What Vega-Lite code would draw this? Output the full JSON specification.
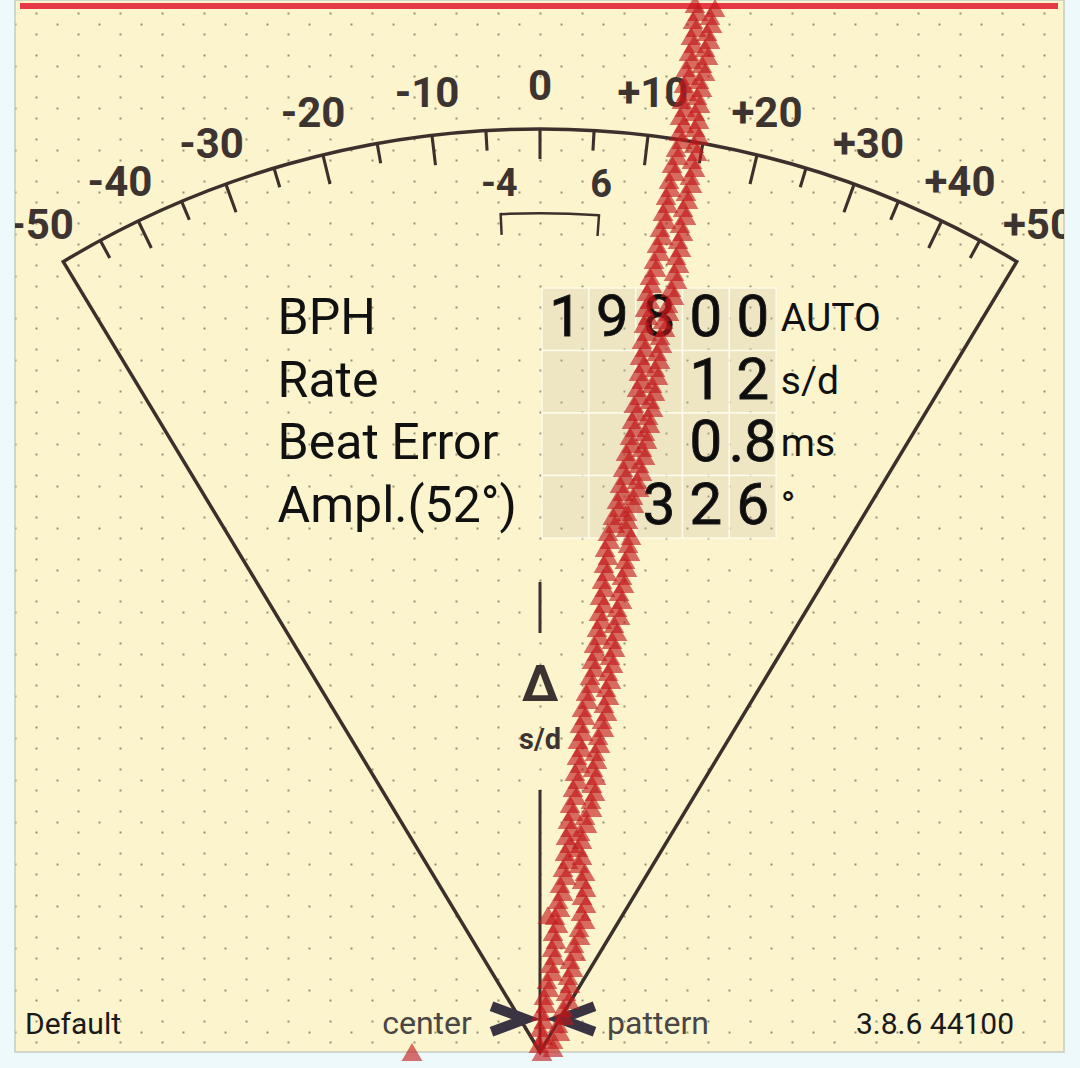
{
  "$schema": "https://vega.github.io/schema/vega-lite/v6.json",
  "width": 1049,
  "height": 1052,
  "autosize": {"type": "none"},
  "padding": {"left": 15, "top": 0, "right": 16, "bottom": 16},
  "background": "#eef9fb",
  "config": {
    "view": {"fill": "#fcf4cd", "stroke": "#c6ccc0", "strokeWidth": 1.5},
    "font": "Roboto"
  },
  "data": {"values": [{}]},
  "datasets": {
    "ticksMajor": [{"v":-40},{"v":-30},{"v":-20},{"v":-10},{"v":0},{"v":10},{"v":20},{"v":30},{"v":40}],
    "ticksMinor": [{"v":-45},{"v":-35},{"v":-25},{"v":-15},{"v":-5},{"v":5},{"v":15},{"v":25},{"v":35},{"v":45}],
    "labels": [{"v":-50,"t":"-50"},{"v":-40,"t":"-40"},{"v":-30,"t":"-30"},{"v":-20,"t":"-20"},{"v":-10,"t":"-10"},{"v":0,"t":"0"},{"v":10,"t":"+10"},{"v":20,"t":"+20"},{"v":30,"t":"+30"},{"v":40,"t":"+40"},{"v":50,"t":"+50"}],
    "window": [{"v":-4,"t":"-4"},{"v":6,"t":"6"}],
    "cells": [
      {"r":1,"c":1,"d":"1"},{"r":1,"c":2,"d":"9"},{"r":1,"c":3,"d":"8"},{"r":1,"c":4,"d":"0"},{"r":1,"c":5,"d":"0"},
      {"r":2,"c":1,"d":""},{"r":2,"c":2,"d":""},{"r":2,"c":3,"d":""},{"r":2,"c":4,"d":"1"},{"r":2,"c":5,"d":"2"},
      {"r":3,"c":1,"d":""},{"r":3,"c":2,"d":""},{"r":3,"c":3,"d":""},{"r":3,"c":4,"d":"0"},{"r":3,"c":5,"d":".8"},
      {"r":4,"c":1,"d":""},{"r":4,"c":2,"d":""},{"r":4,"c":3,"d":"3"},{"r":4,"c":4,"d":"2"},{"r":4,"c":5,"d":"6"}
    ],
    "rows": [
      {"r":1,"label":"BPH","unit":"AUTO"},
      {"r":2,"label":"Rate","unit":"s/d"},
      {"r":3,"label":"Beat Error","unit":"ms"},
      {"r":4,"label":"Ampl.(52°)","unit":"°"}
    ],
    "trace": [
      {"x":695,"y":4},{"x":698,"y":12},{"x":693,"y":20},{"x":696,"y":28},{"x":691,"y":36},{"x":694,"y":44},{"x":689,"y":52},{"x":692,"y":60},{"x":686,"y":68},{"x":689,"y":76},{"x":684,"y":84},{"x":687,"y":92},{"x":682,"y":100},{"x":685,"y":108},{"x":680,"y":116},{"x":684,"y":124},{"x":679,"y":132},{"x":682,"y":140},{"x":676,"y":148},{"x":678,"y":156},{"x":672,"y":164},{"x":675,"y":172},{"x":669,"y":180},{"x":671,"y":188},{"x":666,"y":196},{"x":668,"y":204},{"x":663,"y":212},{"x":666,"y":220},{"x":660,"y":228},{"x":663,"y":236},{"x":657,"y":244},{"x":660,"y":252},{"x":654,"y":260},{"x":656,"y":268},{"x":650,"y":276},{"x":652,"y":284},{"x":647,"y":292},{"x":650,"y":300},{"x":645,"y":308},{"x":648,"y":316},{"x":644,"y":324},{"x":647,"y":332},{"x":642,"y":340},{"x":645,"y":348},{"x":640,"y":356},{"x":644,"y":364},{"x":639,"y":372},{"x":642,"y":380},{"x":637,"y":388},{"x":640,"y":396},{"x":634,"y":404},{"x":637,"y":412},{"x":632,"y":420},{"x":635,"y":428},{"x":630,"y":436},{"x":632,"y":444},{"x":626,"y":452},{"x":629,"y":460},{"x":623,"y":468},{"x":626,"y":476},{"x":620,"y":484},{"x":623,"y":492},{"x":617,"y":500},{"x":619,"y":508},{"x":613,"y":516},{"x":615,"y":524},{"x":608,"y":532},{"x":610,"y":540},{"x":605,"y":548},{"x":608,"y":556},{"x":604,"y":564},{"x":607,"y":572},{"x":602,"y":580},{"x":605,"y":588},{"x":600,"y":596},{"x":604,"y":604},{"x":599,"y":612},{"x":602,"y":620},{"x":597,"y":628},{"x":600,"y":636},{"x":594,"y":644},{"x":597,"y":652},{"x":592,"y":660},{"x":595,"y":668},{"x":590,"y":676},{"x":592,"y":684},{"x":586,"y":692},{"x":588,"y":700},{"x":582,"y":708},{"x":585,"y":716},{"x":580,"y":724},{"x":583,"y":732},{"x":578,"y":740},{"x":582,"y":748},{"x":577,"y":756},{"x":580,"y":764},{"x":575,"y":772},{"x":578,"y":780},{"x":573,"y":788},{"x":576,"y":796},{"x":570,"y":804},{"x":573,"y":812},{"x":568,"y":820},{"x":571,"y":828},{"x":566,"y":836},{"x":570,"y":844},{"x":565,"y":852},{"x":568,"y":860},{"x":563,"y":868},{"x":566,"y":876},{"x":560,"y":884},{"x":563,"y":892},{"x":558,"y":900},{"x":560,"y":908},{"x":555,"y":916},{"x":558,"y":924},{"x":553,"y":932},{"x":556,"y":940},{"x":552,"y":948},{"x":555,"y":956},{"x":550,"y":964},{"x":553,"y":972},{"x":547,"y":980},{"x":549,"y":988},{"x":544,"y":996},{"x":546,"y":1004},{"x":541,"y":1012},{"x":544,"y":1020},{"x":540,"y":1028},{"x":543,"y":1036},{"x":539,"y":1044},{"x":542,"y":1052},
      {"x":715,"y":8},{"x":710,"y":16},{"x":712,"y":24},{"x":707,"y":32},{"x":710,"y":40},{"x":705,"y":48},{"x":708,"y":56},{"x":702,"y":64},{"x":705,"y":72},{"x":699,"y":80},{"x":702,"y":88},{"x":697,"y":96},{"x":700,"y":104},{"x":695,"y":112},{"x":699,"y":120},{"x":695,"y":128},{"x":699,"y":136},{"x":694,"y":144},{"x":697,"y":152},{"x":692,"y":160},{"x":695,"y":168},{"x":690,"y":176},{"x":692,"y":184},{"x":686,"y":192},{"x":688,"y":200},{"x":683,"y":208},{"x":686,"y":216},{"x":680,"y":224},{"x":683,"y":232},{"x":678,"y":240},{"x":681,"y":248},{"x":676,"y":256},{"x":679,"y":264},{"x":674,"y":272},{"x":677,"y":280},{"x":671,"y":288},{"x":674,"y":296},{"x":668,"y":304},{"x":669,"y":312},{"x":663,"y":320},{"x":665,"y":328},{"x":660,"y":336},{"x":662,"y":344},{"x":657,"y":352},{"x":660,"y":360},{"x":655,"y":368},{"x":658,"y":376},{"x":652,"y":384},{"x":655,"y":392},{"x":650,"y":400},{"x":653,"y":408},{"x":648,"y":416},{"x":650,"y":424},{"x":645,"y":432},{"x":647,"y":440},{"x":642,"y":448},{"x":645,"y":456},{"x":639,"y":464},{"x":642,"y":472},{"x":637,"y":480},{"x":639,"y":488},{"x":633,"y":496},{"x":634,"y":504},{"x":627,"y":512},{"x":628,"y":520},{"x":626,"y":528},{"x":631,"y":536},{"x":628,"y":544},{"x":630,"y":552},{"x":625,"y":560},{"x":627,"y":568},{"x":622,"y":576},{"x":624,"y":584},{"x":619,"y":592},{"x":622,"y":600},{"x":617,"y":608},{"x":620,"y":616},{"x":614,"y":624},{"x":617,"y":632},{"x":612,"y":640},{"x":615,"y":648},{"x":610,"y":656},{"x":613,"y":664},{"x":608,"y":672},{"x":611,"y":680},{"x":606,"y":688},{"x":609,"y":696},{"x":604,"y":704},{"x":607,"y":712},{"x":602,"y":720},{"x":604,"y":728},{"x":598,"y":736},{"x":600,"y":744},{"x":595,"y":752},{"x":597,"y":760},{"x":593,"y":768},{"x":596,"y":776},{"x":592,"y":784},{"x":595,"y":792},{"x":591,"y":800},{"x":592,"y":808},{"x":585,"y":816},{"x":587,"y":824},{"x":580,"y":832},{"x":582,"y":840},{"x":578,"y":848},{"x":582,"y":856},{"x":579,"y":864},{"x":585,"y":872},{"x":582,"y":880},{"x":586,"y":888},{"x":582,"y":896},{"x":586,"y":904},{"x":581,"y":912},{"x":585,"y":920},{"x":579,"y":928},{"x":580,"y":936},{"x":574,"y":944},{"x":576,"y":952},{"x":570,"y":960},{"x":573,"y":968},{"x":568,"y":976},{"x":570,"y":984},{"x":566,"y":992},{"x":569,"y":1000},{"x":563,"y":1008},{"x":564,"y":1016},{"x":558,"y":1024},{"x":560,"y":1032},{"x":553,"y":1040},{"x":553,"y":1048},
      {"x":548,"y":915},{"x":412,"y":1052}
    ]
  },
  "resolve": {"scale": {"x": "independent", "y": "independent"}, "axis": {"x": "independent", "y": "independent"}},
  "layer": [
    {
      "layer": [
        {
          "mark": {"type": "rule", "color": "#e63946", "strokeWidth": 6},
          "encoding": {
            "x": {"datum": 20, "type": "quantitative", "scale": {"domain": [15, 1064], "nice": false, "zero": false},
                  "axis": {"orient": "top", "values": [36,78,120,162,204,246,288,330,372,414,456,498,540,582,624,666,708,750,792,834,876,918,960,1002,1044], "grid": true, "gridColor": "#958f78", "gridWidth": 2, "gridDash": [2, 19], "gridDashOffset": 9, "gridOpacity": 1, "labels": false, "ticks": false, "domain": false, "title": null}},
            "x2": {"datum": 1058},
            "y": {"datum": 6, "type": "quantitative", "scale": {"domain": [0, 1052], "nice": false, "zero": false, "reverse": true},
                  "axis": {"orient": "left", "values": [23.5,44.5,65.5,86.5,107.5,128.5,149.5,170.5,191.5,212.5,233.5,254.5,275.5,296.5,317.5,338.5,359.5,380.5,401.5,422.5,443.5,464.5,485.5,506.5,527.5,548.5,569.5,590.5,611.5,632.5,653.5,674.5,695.5,716.5,737.5,758.5,779.5,800.5,821.5,842.5,863.5,884.5,905.5,926.5,947.5,968.5,989.5,1010.5,1031.5], "grid": true, "gridColor": "#958f78", "gridWidth": 2, "gridDash": [2, 40], "gridDashOffset": 1, "gridOpacity": 1, "labels": false, "ticks": false, "domain": false, "title": null}}
          }
        },
        {
          "mark": {"type": "arc", "radius": 923, "filled": false, "color": "#3b302c", "strokeWidth": 3.5},
          "encoding": {
            "x": {"datum": 540, "type": "quantitative", "scale": {"domain": [15, 1064], "nice": false, "zero": false}},
            "y": {"datum": 1052, "type": "quantitative", "scale": {"domain": [0, 1052], "nice": false, "zero": false, "reverse": true}},
            "theta": {"datum": -50, "type": "quantitative", "stack": null, "scale": {"domain": [-50,-40,-30,-20,-10,0,10,20,30,40,50], "range": [-0.5428,-0.4503,-0.3473,-0.2374,-0.1173,0,0.1173,0.2374,0.3473,0.4503,0.5428]}},
            "theta2": {"datum": 50}
          }
        },
        {
          "data": {"name": "ticksMajor"},
          "mark": {"type": "arc", "radius": 923, "radius2": 893, "thetaOffset": -0.0017, "theta2Offset": 0.0017, "color": "#3b302c"},
          "encoding": {
            "x": {"datum": 540, "type": "quantitative", "scale": {"domain": [15, 1064], "nice": false, "zero": false}},
            "y": {"datum": 1052, "type": "quantitative", "scale": {"domain": [0, 1052], "nice": false, "zero": false, "reverse": true}},
            "theta": {"field": "v", "type": "quantitative", "stack": null, "scale": {"domain": [-50,-40,-30,-20,-10,0,10,20,30,40,50], "range": [-0.5428,-0.4503,-0.3473,-0.2374,-0.1173,0,0.1173,0.2374,0.3473,0.4503,0.5428]}},
            "theta2": {"field": "v"}
          }
        },
        {
          "data": {"name": "ticksMinor"},
          "mark": {"type": "arc", "radius": 923, "radius2": 903, "thetaOffset": -0.0017, "theta2Offset": 0.0017, "color": "#3b302c"},
          "encoding": {
            "x": {"datum": 540, "type": "quantitative", "scale": {"domain": [15, 1064], "nice": false, "zero": false}},
            "y": {"datum": 1052, "type": "quantitative", "scale": {"domain": [0, 1052], "nice": false, "zero": false, "reverse": true}},
            "theta": {"field": "v", "type": "quantitative", "stack": null, "scale": {"domain": [-50,-40,-30,-20,-10,0,10,20,30,40,50], "range": [-0.5428,-0.4503,-0.3473,-0.2374,-0.1173,0,0.1173,0.2374,0.3473,0.4503,0.5428]}},
            "theta2": {"field": "v"}
          }
        },
        {
          "mark": {"type": "arc", "radius": 840, "radius2": 837.5, "color": "#3b302c"},
          "encoding": {
            "x": {"datum": 540, "type": "quantitative", "scale": {"domain": [15, 1064], "nice": false, "zero": false}},
            "y": {"datum": 1052, "type": "quantitative", "scale": {"domain": [0, 1052], "nice": false, "zero": false, "reverse": true}},
            "theta": {"datum": -4, "type": "quantitative", "stack": null, "scale": {"domain": [-50,-40,-30,-20,-10,0,10,20,30,40,50], "range": [-0.5428,-0.4503,-0.3473,-0.2374,-0.1173,0,0.1173,0.2374,0.3473,0.4503,0.5428]}},
            "theta2": {"datum": 6}
          }
        },
        {
          "data": {"name": "window"},
          "mark": {"type": "arc", "radius": 840, "radius2": 818, "thetaOffset": -0.0015, "theta2Offset": 0.0015, "color": "#3b302c"},
          "encoding": {
            "x": {"datum": 540, "type": "quantitative", "scale": {"domain": [15, 1064], "nice": false, "zero": false}},
            "y": {"datum": 1052, "type": "quantitative", "scale": {"domain": [0, 1052], "nice": false, "zero": false, "reverse": true}},
            "theta": {"field": "v", "type": "quantitative", "stack": null, "scale": {"domain": [-50,-40,-30,-20,-10,0,10,20,30,40,50], "range": [-0.5428,-0.4503,-0.3473,-0.2374,-0.1173,0,0.1173,0.2374,0.3473,0.4503,0.5428]}},
            "theta2": {"field": "v"}
          }
        },
        {
          "data": {"name": "labels"},
          "mark": {"type": "text", "radius": 965, "fontSize": 42, "fontWeight": "bold", "color": "#3d3431", "align": "center", "baseline": "middle", "clip": true},
          "encoding": {
            "x": {"datum": 540, "type": "quantitative", "scale": {"domain": [15, 1064], "nice": false, "zero": false}},
            "y": {"datum": 1052, "type": "quantitative", "scale": {"domain": [0, 1052], "nice": false, "zero": false, "reverse": true}},
            "theta": {"field": "v", "type": "quantitative", "stack": null, "scale": {"domain": [-50,-40,-30,-20,-10,0,10,20,30,40,50], "range": [-0.5428,-0.4503,-0.3473,-0.2374,-0.1173,0,0.1173,0.2374,0.3473,0.4503,0.5428]}},
            "text": {"field": "t"}
          }
        },
        {
          "data": {"name": "window"},
          "mark": {"type": "text", "radius": 868, "fontSize": 38, "fontWeight": "bold", "color": "#3d3431", "align": "center", "baseline": "middle"},
          "encoding": {
            "x": {"datum": 540, "type": "quantitative", "scale": {"domain": [15, 1064], "nice": false, "zero": false}},
            "y": {"datum": 1052, "type": "quantitative", "scale": {"domain": [0, 1052], "nice": false, "zero": false, "reverse": true}},
            "theta": {"field": "v", "type": "quantitative", "stack": null, "scale": {"domain": [-50,-40,-30,-20,-10,0,10,20,30,40,50], "range": [-0.5428,-0.4503,-0.3473,-0.2374,-0.1173,0,0.1173,0.2374,0.3473,0.4503,0.5428]}},
            "text": {"field": "t"}
          }
        },
        {
          "mark": {"type": "rule", "color": "#3b302c", "strokeWidth": 3},
          "encoding": {
            "x": {"datum": 540, "type": "quantitative", "scale": {"domain": [15, 1064], "nice": false, "zero": false}},
            "y": {"datum": 582, "type": "quantitative", "scale": {"domain": [0, 1052], "nice": false, "zero": false, "reverse": true}},
            "y2": {"datum": 633}
          }
        },
        {
          "mark": {"type": "rule", "color": "#3b302c", "strokeWidth": 3},
          "encoding": {
            "x": {"datum": 540, "type": "quantitative", "scale": {"domain": [15, 1064], "nice": false, "zero": false}},
            "y": {"datum": 790, "type": "quantitative", "scale": {"domain": [0, 1052], "nice": false, "zero": false, "reverse": true}},
            "y2": {"datum": 1052}
          }
        },
        {
          "mark": {"type": "text", "text": "Δ", "fontSize": 50, "fontWeight": "bold", "color": "#3d3431", "align": "center", "baseline": "middle"},
          "encoding": {
            "x": {"datum": 540, "type": "quantitative", "scale": {"domain": [15, 1064], "nice": false, "zero": false}},
            "y": {"datum": 686, "type": "quantitative", "scale": {"domain": [0, 1052], "nice": false, "zero": false, "reverse": true}}
          }
        },
        {
          "mark": {"type": "text", "text": "s/d", "fontSize": 29, "fontWeight": "bold", "color": "#3d3431", "align": "center", "baseline": "middle"},
          "encoding": {
            "x": {"datum": 540, "type": "quantitative", "scale": {"domain": [15, 1064], "nice": false, "zero": false}},
            "y": {"datum": 740, "type": "quantitative", "scale": {"domain": [0, 1052], "nice": false, "zero": false, "reverse": true}}
          }
        },
        {
          "mark": {"type": "text", "text": "Default", "fontSize": 30, "color": "#1a1a1a", "align": "left", "baseline": "alphabetic"},
          "encoding": {
            "x": {"datum": 25, "type": "quantitative", "scale": {"domain": [15, 1064], "nice": false, "zero": false}},
            "y": {"datum": 1034, "type": "quantitative", "scale": {"domain": [0, 1052], "nice": false, "zero": false, "reverse": true}}
          }
        },
        {
          "mark": {"type": "text", "text": "center", "fontSize": 32, "color": "#4a4646", "align": "center", "baseline": "alphabetic"},
          "encoding": {
            "x": {"datum": 427, "type": "quantitative", "scale": {"domain": [15, 1064], "nice": false, "zero": false}},
            "y": {"datum": 1034, "type": "quantitative", "scale": {"domain": [0, 1052], "nice": false, "zero": false, "reverse": true}}
          }
        },
        {
          "mark": {"type": "text", "text": "pattern", "fontSize": 32, "color": "#4a4646", "align": "center", "baseline": "alphabetic"},
          "encoding": {
            "x": {"datum": 658, "type": "quantitative", "scale": {"domain": [15, 1064], "nice": false, "zero": false}},
            "y": {"datum": 1034, "type": "quantitative", "scale": {"domain": [0, 1052], "nice": false, "zero": false, "reverse": true}}
          }
        },
        {
          "mark": {"type": "text", "text": "3.8.6 44100", "fontSize": 30, "color": "#1a1a1a", "align": "center", "baseline": "alphabetic"},
          "encoding": {
            "x": {"datum": 935, "type": "quantitative", "scale": {"domain": [15, 1064], "nice": false, "zero": false}},
            "y": {"datum": 1034, "type": "quantitative", "scale": {"domain": [0, 1052], "nice": false, "zero": false, "reverse": true}}
          }
        },
        {
          "mark": {"type": "point", "shape": "M-0.85,-0.62L0.8,0L-0.85,0.62", "size": 1700, "filled": false, "color": "#3a3342", "strokeWidth": 10, "opacity": 1, "strokeJoin": "miter"},
          "encoding": {
            "x": {"datum": 509, "type": "quantitative", "scale": {"domain": [15, 1064], "nice": false, "zero": false}},
            "y": {"datum": 1019, "type": "quantitative", "scale": {"domain": [0, 1052], "nice": false, "zero": false, "reverse": true}}
          }
        },
        {
          "mark": {"type": "point", "shape": "M0.85,-0.62L-0.8,0L0.85,0.62", "size": 1700, "filled": false, "color": "#3a3342", "strokeWidth": 10, "opacity": 1, "strokeJoin": "miter"},
          "encoding": {
            "x": {"datum": 577, "type": "quantitative", "scale": {"domain": [15, 1064], "nice": false, "zero": false}},
            "y": {"datum": 1019, "type": "quantitative", "scale": {"domain": [0, 1052], "nice": false, "zero": false, "reverse": true}}
          }
        }
      ]
    },
    {
      "layer": [
        {
          "data": {"name": "cells"},
          "mark": {"type": "rect", "width": 46.8, "height": 62.5, "fill": "#c8c2a8", "fillOpacity": 0.28, "stroke": "#fffdf0", "strokeOpacity": 0.75, "strokeWidth": 1.5},
          "encoding": {
            "x": {"field": "c", "type": "quantitative", "axis": null, "scale": {"domain": [-10.76, 11.65], "nice": false, "zero": false}},
            "y": {"field": "r", "type": "quantitative", "axis": null, "scale": {"domain": [-4.108, 12.724], "nice": false, "zero": false, "reverse": true}}
          }
        },
        {
          "data": {"name": "cells"},
          "mark": {"type": "text", "fontSize": 58, "color": "#0d0d0d", "stroke": "#1a1a1a", "strokeWidth": 0.9, "align": "center", "baseline": "middle"},
          "encoding": {
            "x": {"field": "c", "type": "quantitative", "axis": null, "scale": {"domain": [-10.76, 11.65], "nice": false, "zero": false}},
            "y": {"field": "r", "type": "quantitative", "axis": null, "scale": {"domain": [-4.108, 12.724], "nice": false, "zero": false, "reverse": true}},
            "text": {"field": "d"}
          }
        },
        {
          "data": {"name": "rows"},
          "mark": {"type": "text", "fontSize": 50, "color": "#111111", "align": "left", "baseline": "middle"},
          "encoding": {
            "x": {"datum": -5.15, "type": "quantitative", "axis": null, "scale": {"domain": [-10.76, 11.65], "nice": false, "zero": false}},
            "y": {"field": "r", "type": "quantitative", "axis": null, "scale": {"domain": [-4.108, 12.724], "nice": false, "zero": false, "reverse": true}},
            "text": {"field": "label"}
          }
        },
        {
          "data": {"name": "rows"},
          "mark": {"type": "text", "fontSize": 39, "color": "#111111", "align": "left", "baseline": "middle"},
          "encoding": {
            "x": {"datum": 5.6, "type": "quantitative", "axis": null, "scale": {"domain": [-10.76, 11.65], "nice": false, "zero": false}},
            "y": {"field": "r", "type": "quantitative", "axis": null, "scale": {"domain": [-4.108, 12.724], "nice": false, "zero": false, "reverse": true}},
            "text": {"field": "unit"}
          }
        }
      ]
    },
    {
      "data": {"name": "trace"},
      "mark": {"type": "point", "shape": "triangle-up", "filled": true, "size": 430, "color": "#c0161a", "opacity": 0.62},
      "encoding": {
        "x": {"field": "x", "type": "quantitative", "axis": null, "scale": {"domain": [15, 1064], "nice": false, "zero": false}},
        "y": {"field": "y", "type": "quantitative", "axis": null, "scale": {"domain": [0, 1052], "nice": false, "zero": false, "reverse": true}}
      }
    }
  ]
}
